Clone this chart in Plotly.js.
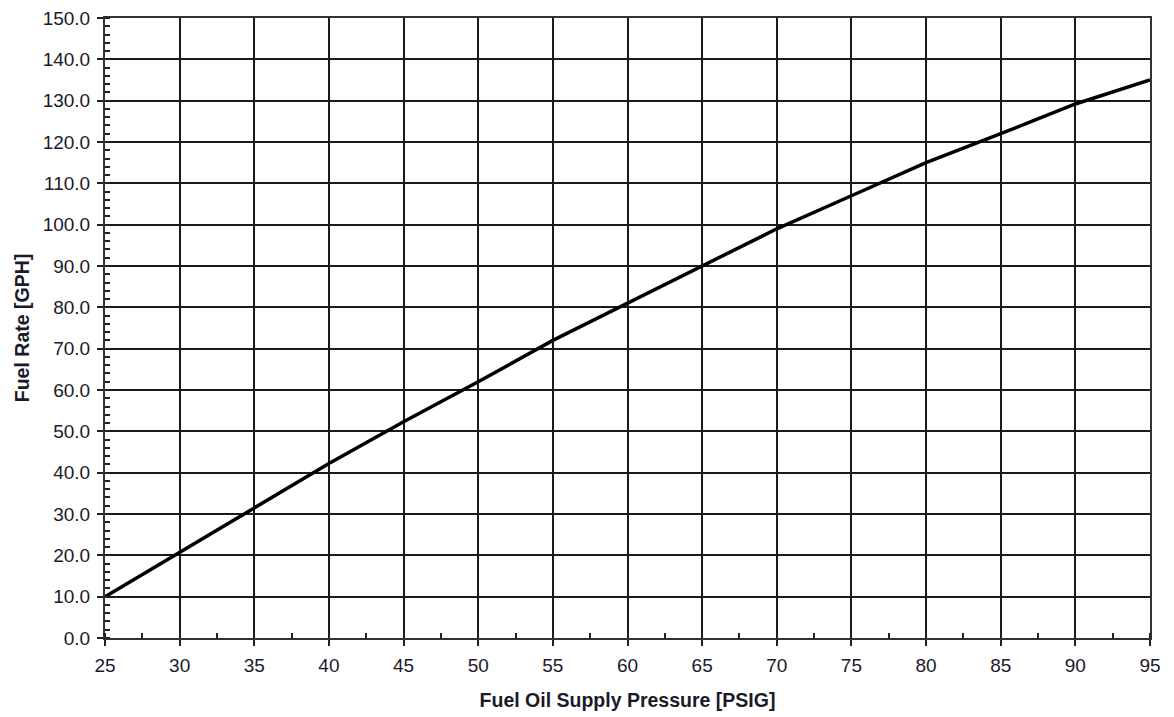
<!DOCTYPE html>
<html>
<head>
<meta charset="utf-8">
<script src="https://cdn.plot.ly/plotly-3.0.1.min.js"></script>
<style>html,body{margin:0;padding:0;background:#fff;}#chart{width:1174px;height:717px;}</style>
</head>
<body>
<div id="chart"></div>
<script>
const pressure = [25, 30, 35, 40, 45, 50, 55, 60, 65, 70, 75, 80, 85, 90, 95];
const fuelRate = [10.0, 20.8, 31.4, 42.2, 52.3, 62.0, 72.0, 81.0, 90.2, 99.0, 107.0, 115.0, 122.0, 129.2, 135.0];
const xTitle = "Fuel Oil Supply Pressure [PSIG]";
const yTitle = "Fuel Rate [GPH]";

const fontFam = "Liberation Sans";
const trace = {
  x: pressure, y: fuelRate, type: 'scatter', mode: 'lines',
  line: {color: '#000', width: 3.5}, hoverinfo: 'skip'
};
const layout = {
  width: 1174, height: 717,
  margin: {l: 105, r: 24, t: 18, b: 79},
  paper_bgcolor: '#fff', plot_bgcolor: '#fff',
  showlegend: false,
  xaxis: {
    range: [25, 95], dtick: 5, tick0: 25,
    showgrid: true, gridcolor: '#1a1a1a', gridwidth: 2,
    showline: true, linecolor: '#333', linewidth: 2, mirror: true,
    ticks: 'outside', ticklen: 6, tickwidth: 2, tickcolor: '#222',
    ticklabelstandoff: 3,
    minor: {ticks: 'inside', dtick: 2.5, ticklen: 5, tickwidth: 2, tickcolor: '#222', showgrid: false},
    zeroline: false,
    tickfont: {family: fontFam, size: 19, color: '#1a1a2a'},
    title: {text: xTitle, font: {family: fontFam, size: 19.5, color: '#1a1a2a', weight: 'bold'}, standoff: 19}
  },
  yaxis: {
    range: [0, 150], dtick: 10, tick0: 0, tickformat: '.1f',
    showgrid: true, gridcolor: '#1a1a1a', gridwidth: 2,
    showline: true, linecolor: '#333', linewidth: 2, mirror: true,
    ticks: 'outside', ticklen: 6, tickwidth: 2, tickcolor: '#222',
    ticklabelstandoff: 3,
    minor: {ticks: 'inside', dtick: 2, ticklen: 5, tickwidth: 2, tickcolor: '#222', showgrid: false},
    zeroline: false,
    tickfont: {family: fontFam, size: 19, color: '#1a1a2a'},
    title: {text: yTitle, font: {family: fontFam, size: 19.5, color: '#1a1a2a', weight: 'bold'}, standoff: 8}
  }
};
Plotly.newPlot('chart', [trace], layout, {displayModeBar: false, staticPlot: true});
</script>
</body>
</html>
